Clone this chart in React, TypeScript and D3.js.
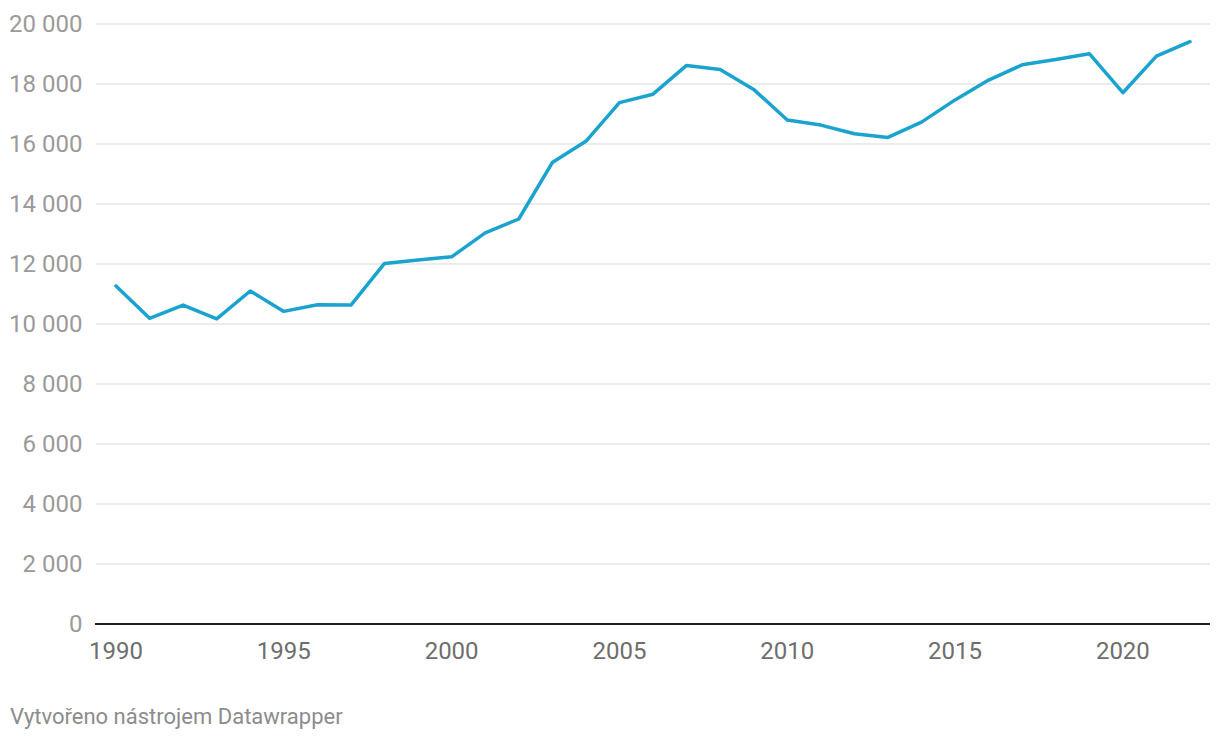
import React from "react";
import * as d3 from "d3";

const years: number[] = [
  1990, 1991, 1992, 1993, 1994, 1995, 1996, 1997, 1998, 1999, 2000, 2001, 2002,
  2003, 2004, 2005, 2006, 2007, 2008, 2009, 2010, 2011, 2012, 2013, 2014, 2015,
  2016, 2017, 2018, 2019, 2020, 2021, 2022,
];
const values: number[] = [
  11270, 10190, 10630, 10170, 11100, 10420, 10640, 10630, 12020, 12130, 12240,
  13040, 13500, 15380, 16090, 17380, 17660, 18620, 18480, 17820, 16800, 16630,
  16340, 16220, 16730, 17470, 18130, 18640, 18820, 19010, 17710, 18930, 19410,
];
const yTicks: number[] = [0, 2000, 4000, 6000, 8000, 10000, 12000, 14000, 16000, 18000, 20000];
const xTicks: number[] = [1990, 1995, 2000, 2005, 2010, 2015, 2020];
const footer = "Vytvořeno nástrojem Datawrapper";

const W = 1220;
const H = 740;
const FONT = "Roboto, 'Noto Sans', sans-serif";

export default function App() {
  const x = d3.scaleLinear().domain([1990, 2022]).range([116, 1190]);
  const y = d3.scaleLinear().domain([0, 20000]).range([624, 24]);
  const fmt = (v: number) => d3.format(",")(v).replace(/,/g, " ");
  const line = d3
    .line<number>()
    .x((_, i) => x(years[i]))
    .y((d) => y(d));

  return (
    <svg
      width={W}
      height={H}
      style={{ position: "absolute", left: 0, top: 0, background: "#fff" }}
      fontFamily={FONT}
    >
      <rect x={0} y={0} width={W} height={H} fill="#fff" />
      {yTicks.map((t) => (
        <g key={t}>
          {t > 0 && (
            <line x1={96} x2={1210} y1={y(t)} y2={y(t)} stroke="#e6e6e6" strokeWidth={1.3} />
          )}
          <text
            x={82.5}
            y={y(t)}
            textAnchor="end"
            dominantBaseline="central"
            fontSize={24}
            fill="#9a9a9a"
          >
            {fmt(t)}
          </text>
        </g>
      ))}
      <line x1={95} x2={1210} y1={y(0)} y2={y(0)} stroke="#1d1d1d" strokeWidth={2} />
      {xTicks.map((t) => (
        <text
          key={t}
          x={x(t)}
          y={659}
          textAnchor="middle"
          fontSize={24}
          fill="#6e6e6e"
        >
          {t}
        </text>
      ))}
      <path
        d={line(values) || ""}
        fill="none"
        stroke="#1ba3d0"
        strokeWidth={3.5}
        strokeLinejoin="round"
        strokeLinecap="round"
      />
      <text x={10} y={724} fontSize={22} fill="#8c8c8c">
        {footer}
      </text>
    </svg>
  );
}
